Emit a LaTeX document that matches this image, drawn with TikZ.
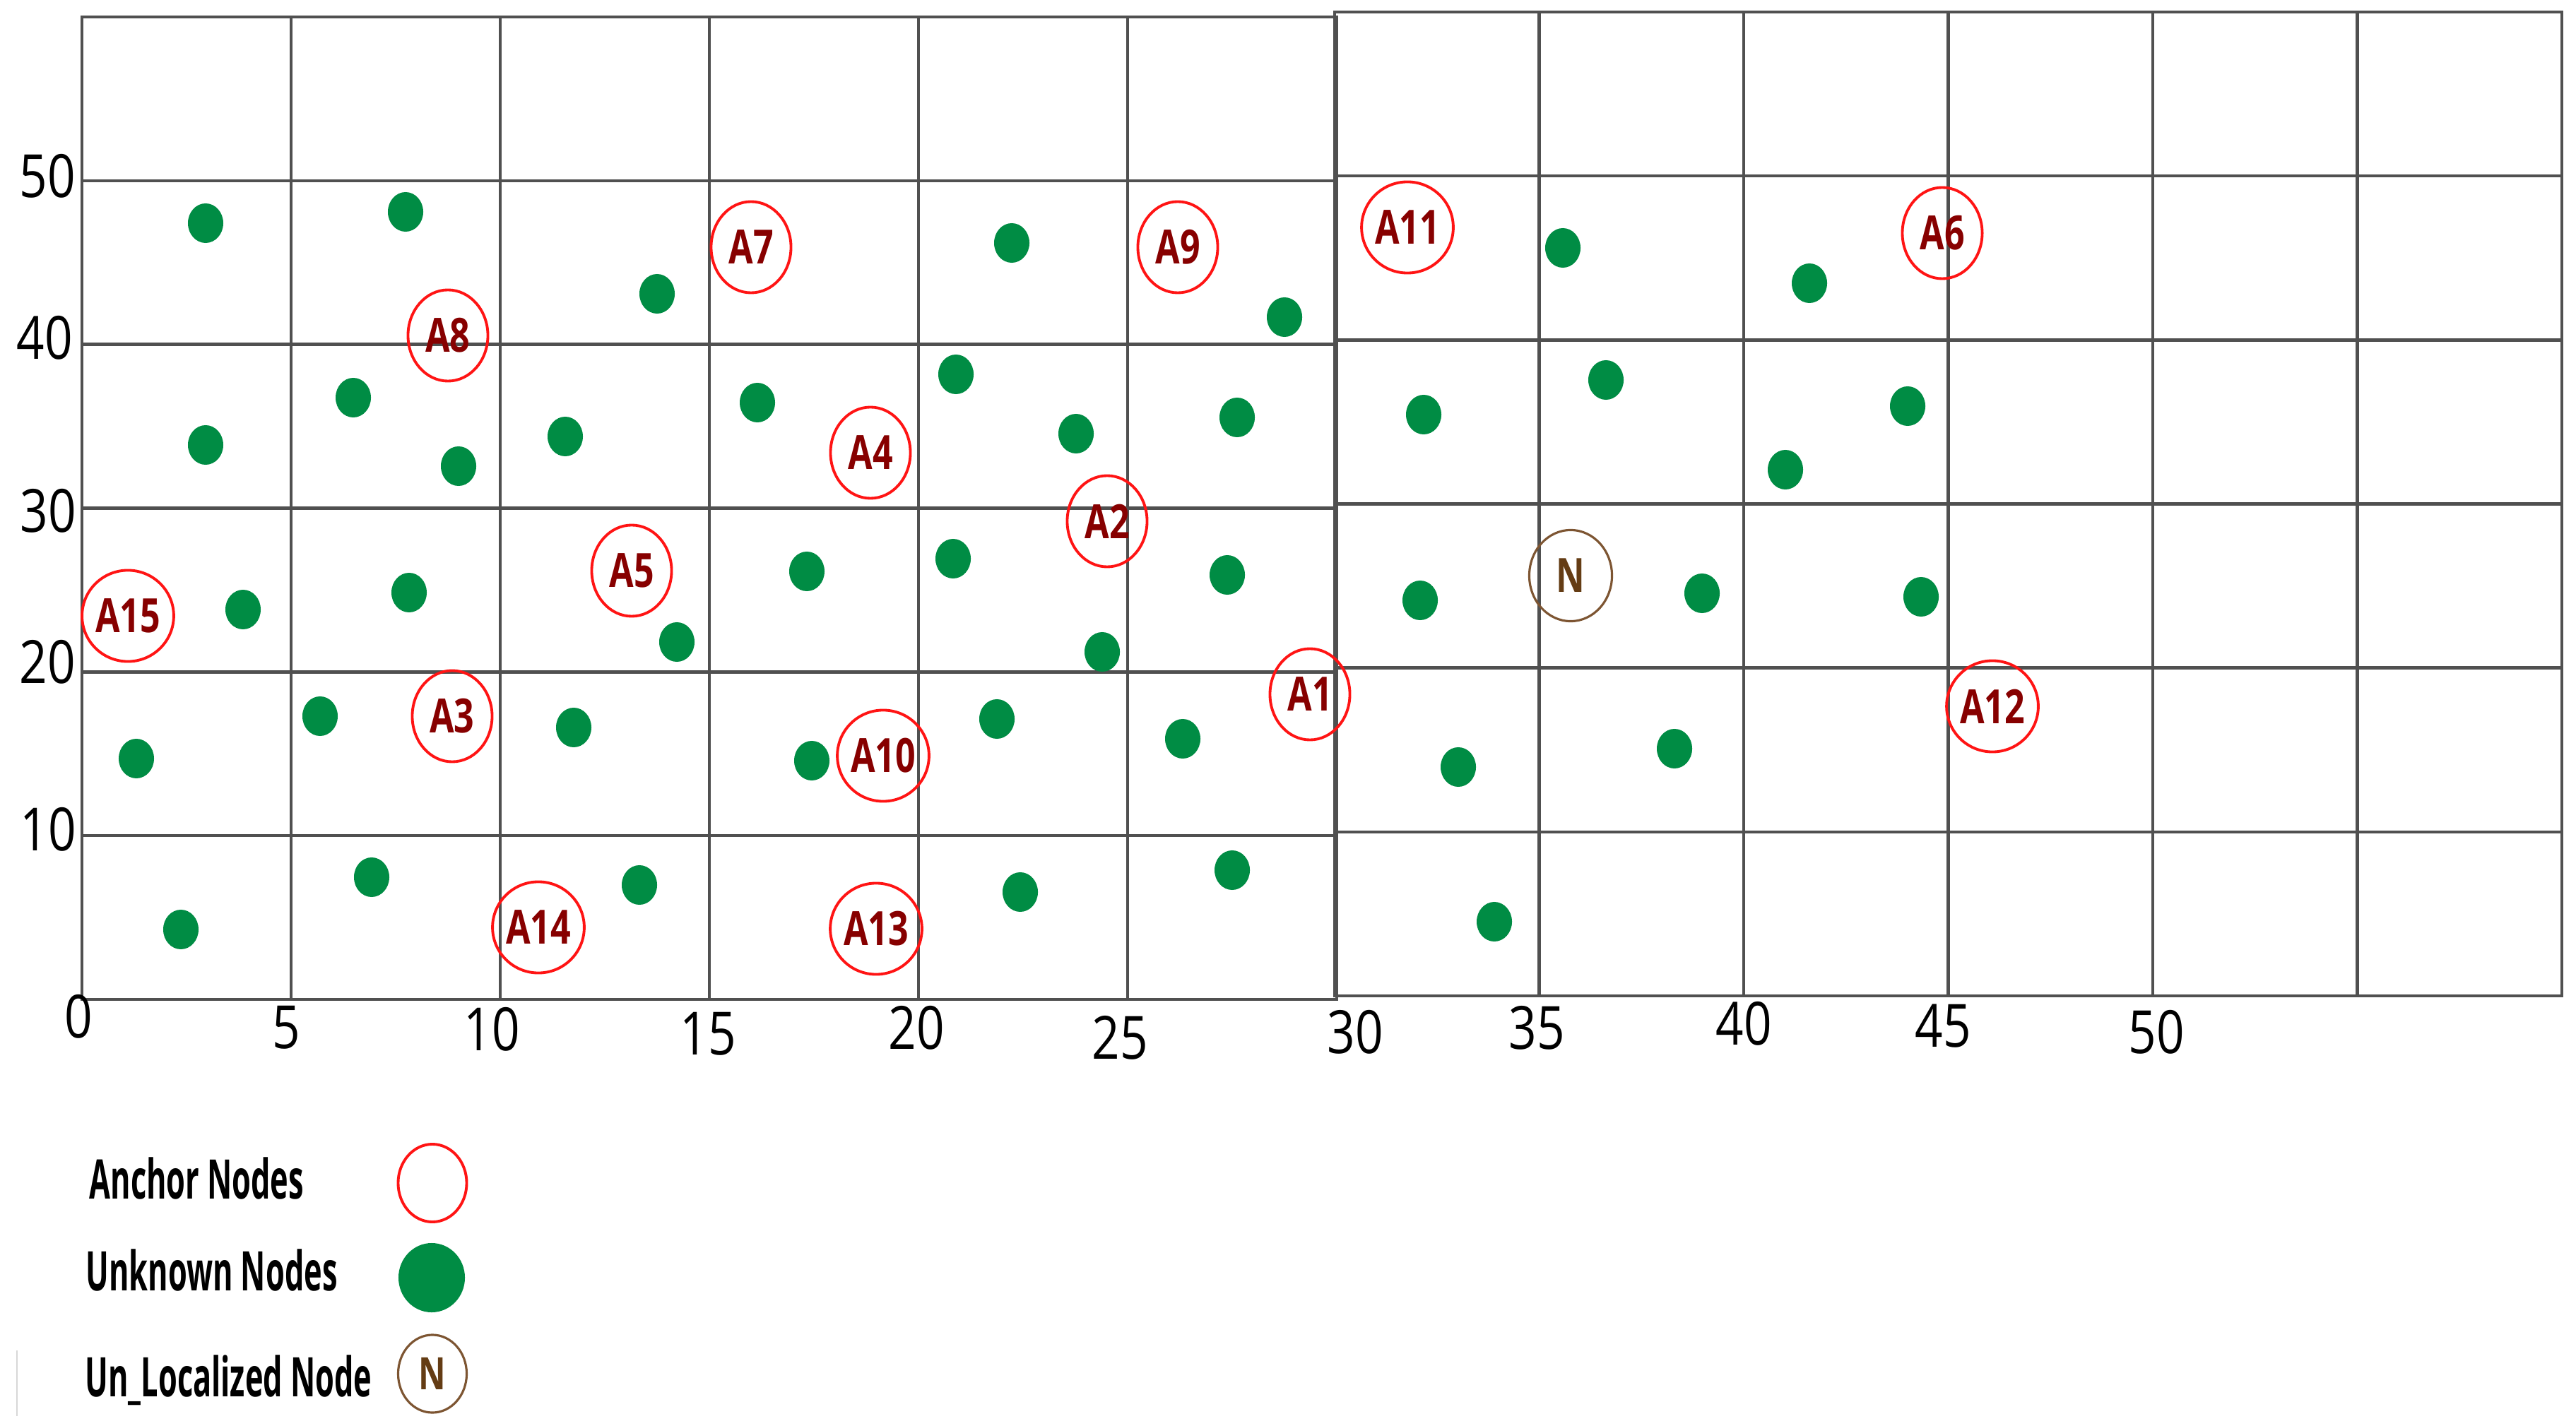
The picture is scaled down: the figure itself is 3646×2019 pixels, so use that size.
\documentclass[tikz,border=0pt]{standalone}
\usepackage{fontspec}
\usetikzlibrary{shapes.geometric}
\newfontfamily\axisfont[FakeStretch=0.82]{Open Sans}
\newfontfamily\anchfont[FakeStretch=0.75]{Open Sans}
\newfontfamily\legfont[FakeStretch=0.56]{Open Sans}
\definecolor{gridc}{RGB}{80,80,80}
\definecolor{anchred}{RGB}{255,20,20}
\definecolor{anchtxt}{RGB}{135,0,0}
\definecolor{nodegreen}{RGB}{0,140,68}
\definecolor{brownring}{RGB}{125,85,50}
\definecolor{browntxt}{RGB}{100,60,20}
\definecolor{faintline}{RGB}{215,215,215}
\begin{document}
\begin{tikzpicture}[x=0.01cm,y=-0.01cm,
  gridline/.style={draw=gridc,line width=1.3pt,line cap=rect},
  anchornode/.style={ellipse,draw=anchred,line width=1.1pt,minimum width=1.13cm,minimum height=1.29cm,inner sep=0pt,text=anchtxt,font=\anchfont\bfseries\fontsize{19}{19}\selectfont},
  unknode/.style={ellipse,fill=nodegreen,minimum width=0.5cm,minimum height=0.56cm,inner sep=0pt},
  unlocnode/.style={ellipse,draw=brownring,line width=0.9pt,minimum width=1.17cm,minimum height=1.29cm,inner sep=0pt,text=browntxt,font=\anchfont\bfseries\fontsize{19}{19}\selectfont},
  axislabel/.style={inner sep=0pt,font=\axisfont\fontsize{24}{24}\selectfont},
  legendtext/.style={anchor=base west,inner sep=0pt,font=\legfont\bfseries\fontsize{22}{22}\selectfont}]
\useasboundingbox (0,0) rectangle (3646,2019);
\fill[white] (0,0) rectangle (3646,2019);
% left grid
\foreach \i in {0,...,6} {
  \draw[gridline] ({116+296*\i},24) -- ({116+296*\i},1415);
  \draw[gridline] (116,{24+231.83*\i}) -- (1892,{24+231.83*\i});
}
% right grid
\foreach \i in {0,...,6} {
  \draw[gridline] ({1889+289.5*\i},17) -- ({1889+289.5*\i},1410);
  \draw[gridline] (1889,{17+232.17*\i}) -- (3626,{17+232.17*\i});
}
% axis labels
\node[axislabel] (y50) at (67,249) {50};
\node[axislabel] (y40) at (63,478) {40};
\node[axislabel] (y30) at (68,723) {30};
\node[axislabel] (y20) at (67,937) {20};
\node[axislabel] (y10) at (68,1174) {10};
\node[axislabel] (x0) at (111,1439) {0};
\node[axislabel] (x5) at (405,1455) {5};
\node[axislabel] (x10) at (696,1457) {10};
\node[axislabel] (x15) at (1002,1464) {15};
\node[axislabel] (x20) at (1297,1455) {20};
\node[axislabel] (x25) at (1585,1469) {25};
\node[axislabel] (x30) at (1918,1461) {30};
\node[axislabel] (x35) at (2175,1455) {35};
\node[axislabel] (x40) at (2468,1449) {40};
\node[axislabel] (x45) at (2750,1453) {45};
\node[axislabel] (x50) at (3052,1461) {50};
% unknown nodes
\foreach \n/\px/\py in {u1/291/316, u2/574/300, u3/930/416, u4/500/563, u5/291/630, u6/649/660, u7/800/618, u8/1072/570, u9/1432/344, u10/1818/449, u11/1353/530, u12/1523/614, u13/1751/591, u14/344/863, u15/579/839, u16/958/909, u17/1142/809, u18/1349/791, u19/1560/923, u20/1737/814, u21/193/1074, u22/453/1014, u23/812/1030, u24/1149/1077, u25/1411/1018, u26/1674/1046, u27/256/1316, u28/526/1242, u29/905/1253, u30/1444/1263, u31/1744/1232, u32/2212/351, u33/2561/401, u34/2015/587, u35/2273/538, u36/2700/575, u37/2527/665, u38/2010/850, u39/2409/840, u40/2719/845, u41/2064/1086, u42/2370/1060, u43/2115/1305} {
  \node[unknode] (\n) at (\px,\py) {};
}
% anchor nodes
\node[anchornode] (A7) at (1063,350) {A7};
\node[anchornode] (A9) at (1667,350) {A9};
\node[anchornode] (A8) at (634,475) {A8};
\node[anchornode] (A4) at (1232,641) {A4};
\node[anchornode] (A2) at (1567,738) {A2};
\node[anchornode] (A5) at (894,808) {A5};
\node[anchornode] (A15) at (181,872) {A15};
\node[anchornode] (A3) at (640,1014) {A3};
\node[anchornode] (A1) at (1854,983) {A1};
\node[anchornode] (A10) at (1250,1070) {A10};
\node[anchornode] (A14) at (762,1313) {A14};
\node[anchornode] (A13) at (1240,1315) {A13};
\node[anchornode] (A11) at (1992,322) {A11};
\node[anchornode] (A6) at (2749,330) {A6};
\node[anchornode] (A12) at (2820,1000) {A12};
\node[unlocnode] (N) at (2223,815) {N};
% legend
\draw[draw=faintline,line width=0.6pt] (24,1912) -- (24,2005);
\node[legendtext] (legAt) at (126,1697) {Anchor Nodes};
\node[legendtext] (legUt) at (121,1827) {Unknown Nodes};
\node[legendtext] (legNt) at (120,1977) {Un\_Localized Node};
\node[anchornode,minimum width=0.97cm,minimum height=1.10cm] (legA) at (612,1675) {};
\node[unknode,minimum width=0.94cm,minimum height=0.98cm] (legU) at (611,1809) {};
\node[unlocnode,minimum width=0.97cm,minimum height=1.10cm,font=\anchfont\bfseries\fontsize{18}{18}\selectfont] (legN) at (612,1945) {N};
\end{tikzpicture}
\end{document}
